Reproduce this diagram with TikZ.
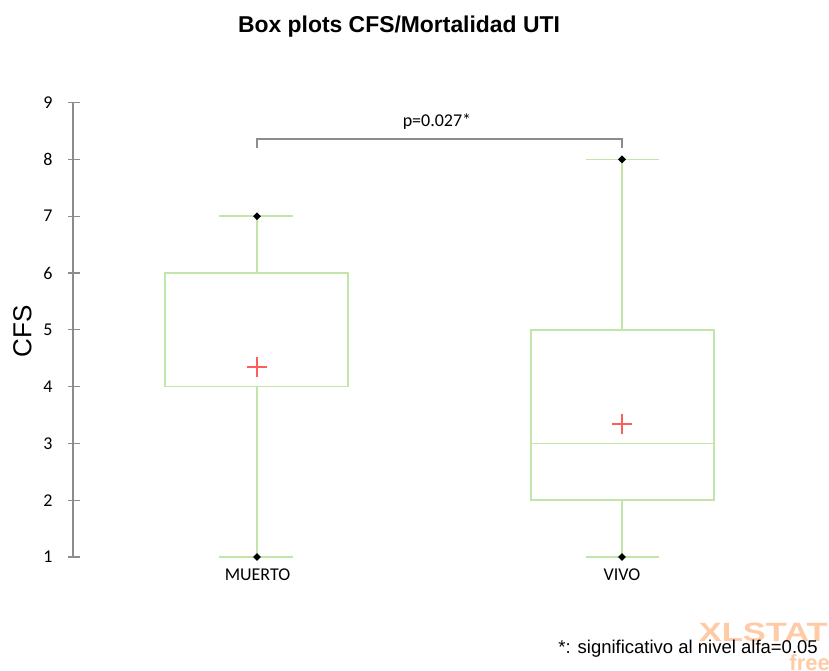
\documentclass[tikz,border=0pt]{standalone}
\usepackage{fontspec}
\setmainfont{Liberation Sans}
\newfontfamily\calibfont{Carlito}
\usetikzlibrary{shapes.geometric}
\definecolor{boxgreen}{HTML}{C2E6AA}
\definecolor{meanred}{HTML}{FF5C5C}
\definecolor{axisgray}{HTML}{8C8C8C}
\definecolor{wmorange}{HTML}{FFCBA6}
\tikzset{
  boxline/.style={draw=boxgreen, line width=1.5pt},
  meanmark/.style={draw=meanred, line width=1.2pt},
  extreme/.style={diamond, fill=black, inner sep=0pt, minimum size=8pt},
  ticklabel/.style={font=\calibfont\fontsize{18}{20}\selectfont, inner sep=0pt},
  catlabel/.style={font=\calibfont\fontsize{18}{20}\selectfont, inner sep=0pt}
}
\begin{document}
\begin{tikzpicture}[x=1pt,y=-1pt]
  \useasboundingbox (0,0) rectangle (829,671);
  \clip (0,0) rectangle (829,671);

  \node[anchor=base, inner sep=0pt, font=\bfseries\fontsize{22.9}{26}\selectfont] (title) at (399,33) {Box plots CFS/Mortalidad UTI};
  \node[rotate=90, inner sep=0pt, font=\fontsize{26}{30}\selectfont] (ylabel) at (22.5,331) {CFS};

  \begin{scope}[y=56.8pt, yshift=-613.8pt]
    \draw[axisgray, line width=1.3pt] (73,1) -- (73,9);
    \foreach \v in {1,...,9} {
      \draw[axisgray, line width=1.3pt] (68,\v) -- (80,\v);
      \node[ticklabel] (tick\v) at (48,\v) {\v};
    }

    \draw[boxline] (257,1) -- (257,4); \draw[boxline] (257,6) -- (257,7);
    \draw[boxline] (219,7) -- (293,7); \draw[boxline] (219,1) -- (293,1);
    \draw[boxline] (165,4) rectangle (348,6); \draw[boxline] (165,4) -- (348,4);
    \draw[meanmark] (247,4.345) -- (267,4.345); \draw[meanmark] (257,4.345) ++(0,-10pt) -- ++(0,20pt);
    \node[extreme] (muertomax) at (257,7) {}; \node[extreme] (muertomin) at (257,1) {};

    \draw[boxline] (622,1) -- (622,2); \draw[boxline] (622,5) -- (622,8);
    \draw[boxline] (586,8) -- (659,8); \draw[boxline] (586,1) -- (659,1);
    \draw[boxline] (531,2) rectangle (714,5); \draw[boxline] (531,3) -- (714,3);
    \draw[meanmark] (612,3.34) -- (632,3.34); \draw[meanmark] (622,3.34) ++(0,-10pt) -- ++(0,20pt);
    \node[extreme] (vivomax) at (622,8) {}; \node[extreme] (vivomin) at (622,1) {};
  \end{scope}

  \coordinate (bracketl) at (257,148); \coordinate (bracketr) at (622,148);
  \draw[axisgray, line width=1.2pt] (bracketl) -- ++(0,-9) -| (bracketr);
  \node[catlabel] (pval) at (437,122) {p=0.027*};

  \node[catlabel] (muerto) at (257.5,575) {MUERTO};
  \node[catlabel] (vivo) at (622,575) {VIVO};

  \node[anchor=base east, inner sep=0pt, xscale=1.3, text=wmorange, font=\bfseries\fontsize{26.5}{28}\selectfont] (xlstat) at (828,641) {XLSTAT};
  \node[anchor=base east, inner sep=0pt, text=wmorange, font=\bfseries\fontsize{22}{24}\selectfont] (free) at (830,670) {free};
  \node[anchor=base east, inner sep=0pt, font=\fontsize{18.5}{21}\selectfont] (footnote) at (818,653) {*: significativo al nivel alfa=0.05};

\end{tikzpicture}
\end{document}
